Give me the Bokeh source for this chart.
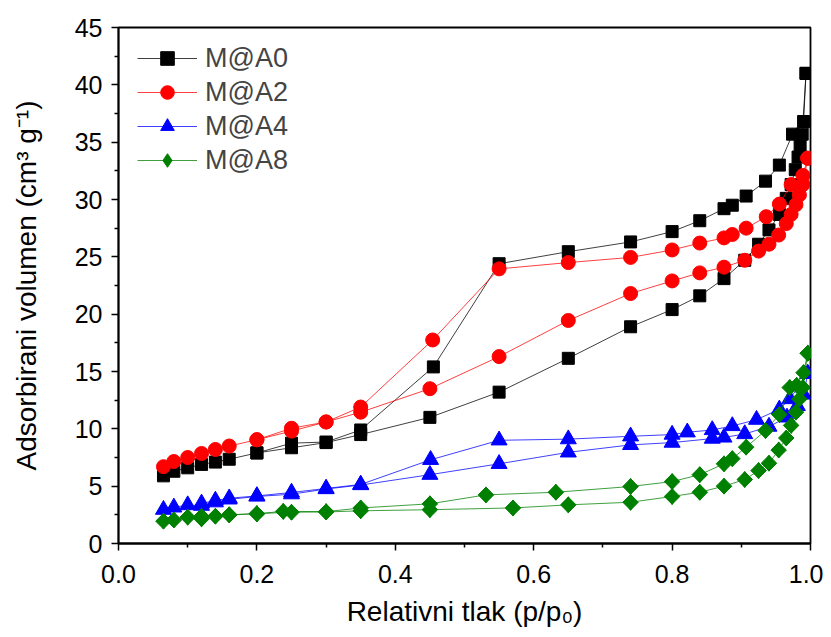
import math
from bokeh.plotting import figure
from bokeh.embed import file_html
from bokeh.resources import INLINE
from bokeh.models import FixedTicker, PrintfTickFormatter, Legend, LegendItem, Range1d

# ---- data ----
a0_ads_x = [0.065, 0.08, 0.10, 0.12, 0.14, 0.16, 0.20, 0.25, 0.30, 0.35, 0.45, 0.55, 0.65, 0.74, 0.80, 0.84, 0.875, 0.905, 0.925, 0.94, 0.955, 0.965, 0.972, 0.978, 0.982, 0.985, 0.988, 0.9935]
a0_ads_y = [5.9, 6.3, 6.6, 6.9, 7.1, 7.35, 7.9, 8.35, 8.8, 9.5, 11.0, 13.2, 16.15, 18.9, 20.4, 21.6, 23.1, 24.7, 26.1, 27.35, 28.7, 30.1, 31.3, 32.6, 33.7, 34.7, 35.7, 41.0]
a0_des_x = [0.9935, 0.99, 0.974, 0.955, 0.935, 0.907, 0.887, 0.875, 0.84, 0.80, 0.74, 0.65, 0.55, 0.455, 0.35, 0.30, 0.25, 0.20]
a0_des_y = [41.0, 36.8, 35.7, 33.0, 31.6, 30.3, 29.5, 29.2, 28.15, 27.2, 26.3, 25.45, 24.4, 15.4, 9.9, 8.85, 8.75, 7.9]

a2_ads_x = [0.065, 0.08, 0.10, 0.12, 0.14, 0.16, 0.20, 0.25, 0.30, 0.35, 0.45, 0.55, 0.65, 0.74, 0.80, 0.84, 0.875, 0.905, 0.925, 0.94, 0.954, 0.965, 0.972, 0.979, 0.984, 0.989, 0.996]
a2_ads_y = [6.7, 7.15, 7.5, 7.85, 8.2, 8.5, 9.05, 9.8, 10.6, 11.45, 13.5, 16.3, 19.45, 21.8, 22.9, 23.6, 24.1, 24.7, 25.5, 26.1, 26.9, 27.9, 28.7, 29.55, 30.4, 31.3, 33.6]
a2_des_x = [0.996, 0.989, 0.972, 0.955, 0.936, 0.907, 0.887, 0.875, 0.84, 0.80, 0.74, 0.65, 0.55, 0.454, 0.35, 0.30, 0.25, 0.20]
a2_des_y = [33.6, 32.1, 31.3, 29.6, 28.5, 27.5, 26.95, 26.65, 26.2, 25.6, 24.95, 24.5, 23.95, 17.75, 11.9, 10.6, 10.05, 9.05]

a4_ads_x = [0.065, 0.08, 0.10, 0.12, 0.14, 0.16, 0.20, 0.25, 0.30, 0.35, 0.45, 0.55, 0.65, 0.74, 0.80, 0.858, 0.875, 0.905, 0.94, 0.966, 0.981, 0.99, 0.996]
a4_ads_y = [2.95, 3.15, 3.35, 3.3, 3.6, 3.85, 4.1, 4.3, 4.75, 5.1, 6.0, 6.95, 7.95, 8.6, 8.8, 9.15, 9.25, 9.55, 10.2, 11.0, 12.0, 13.0, 14.8]
a4_des_x = [0.996, 0.97, 0.955, 0.922, 0.887, 0.858, 0.822, 0.80, 0.74, 0.65, 0.55, 0.451, 0.35, 0.30, 0.25, 0.20, 0.16, 0.14, 0.12]
a4_des_y = [14.8, 12.6, 11.7, 10.8, 10.25, 9.9, 9.7, 9.5, 9.35, 9.1, 9.0, 7.3, 5.15, 4.8, 4.45, 4.15, 3.95, 3.75, 3.5]

a8_ads_x = [0.065, 0.08, 0.10, 0.12, 0.14, 0.16, 0.20, 0.25, 0.30, 0.35, 0.45, 0.57, 0.65, 0.74, 0.80, 0.84, 0.875, 0.905, 0.925, 0.94, 0.954, 0.965, 0.972, 0.979, 0.984, 0.989, 0.996]
a8_ads_y = [1.95, 2.05, 2.3, 2.15, 2.38, 2.5, 2.6, 2.73, 2.75, 2.85, 2.95, 3.1, 3.37, 3.6, 4.1, 4.47, 5.0, 5.58, 6.36, 7.0, 8.15, 9.2, 10.3, 11.45, 12.6, 13.6, 16.6]
a8_des_x = [0.996, 0.99, 0.98, 0.97, 0.955, 0.935, 0.907, 0.887, 0.875, 0.84, 0.80, 0.74, 0.632, 0.531, 0.45, 0.35, 0.30, 0.238, 0.20, 0.16, 0.12]
a8_des_y = [16.6, 14.9, 13.8, 13.6, 11.25, 9.85, 8.4, 7.4, 6.95, 6.0, 5.4, 4.97, 4.47, 4.24, 3.46, 3.1, 2.78, 2.8, 2.6, 2.5, 2.38]

labels = ["M@A0", "M@A2", "M@A4", "M@A8"]
colors = ["#000000", "#FF0000", "#0000FF", "#008000"]

x_ticks = [0.0, 0.2, 0.4, 0.6, 0.8, 1.0]
x_minor = [0.1, 0.3, 0.5, 0.7, 0.9]
y_ticks = [0, 5, 10, 15, 20, 25, 30, 35, 40, 45]
y_minor = [2.5, 7.5, 12.5, 17.5, 22.5, 27.5, 32.5, 37.5, 42.5]

series = [
    (a0_ads_x, a0_ads_y, a0_des_x, a0_des_y),
    (a2_ads_x, a2_ads_y, a2_des_x, a2_des_y),
    (a4_ads_x, a4_ads_y, a4_des_x, a4_des_y),
    (a8_ads_x, a8_ads_y, a8_des_x, a8_des_y),
]
# marker styles: (marker, size, angle, legend marker)
marker_styles = [("square", 12, 0.0, "square"), ("circle", 14, 0.0, "circle"),
                 ("triangle", 16, 0.0, "triangle"), ("square", 11, math.pi / 4, "diamond")]

FONT = "Liberation Sans"

p = figure(width=823, height=629, output_backend="svg", toolbar_location=None,
           x_range=Range1d(0, 1.0), y_range=Range1d(0, 45),
           min_border_left=118, min_border_right=13, min_border_top=27, min_border_bottom=86)
p.background_fill_color = "white"
p.border_fill_color = "white"
p.grid.visible = False
p.outline_line_color = "#000000"
p.outline_line_width = 1.8
p.outline_line_alpha = 1.0

items = []
for (ax, ay, dx, dy), lab, col, (mk, sz, ang, lmk) in zip(series, labels, colors, marker_styles):
    l1 = p.line(ax, ay, line_color=col, line_width=1, line_alpha=0.75)
    l2 = p.line(dx, dy, line_color=col, line_width=1, line_alpha=0.75)
    if lmk != mk:
        # diamond glyph drawn underneath the rotated squares; used for the legend swatch
        s_leg = p.scatter(ax + dx, ay + dy, marker=lmk, size=16, fill_color=col, line_color=col)
    s1 = p.scatter(ax + dx, ay + dy, marker=mk, size=sz, angle=ang,
                   fill_color=col, line_color=col)
    if lmk == mk:
        items.append(LegendItem(label=lab, renderers=[l1, s1]))
    else:
        items.append(LegendItem(label=lab, renderers=[l1, s_leg]))

legend = Legend(items=items, location=(19, 366))
legend.border_line_color = None
legend.background_fill_alpha = 0
legend.label_text_font = FONT
legend.label_text_font_size = "27px"
legend.glyph_width = 60
legend.glyph_height = 34
legend.label_height = 34
legend.spacing = 0
legend.padding = 0
legend.margin = 0
legend.label_standoff = 8
p.add_layout(legend)

p.xaxis.ticker = FixedTicker(ticks=x_ticks, minor_ticks=x_minor)
p.xaxis.formatter = PrintfTickFormatter(format="%.1f")
p.yaxis.ticker = FixedTicker(ticks=y_ticks, minor_ticks=y_minor)
p.xaxis.axis_label = "Relativni tlak (p/p\u2080)"
p.yaxis.axis_label = "Adsorbirani volumen (cm\u00b3 g\u207b\u00b9)"

for ax in (p.xaxis, p.yaxis):
    ax.axis_line_width = 1.8
    ax.axis_line_color = "#000000"
    ax.major_tick_in = 0
    ax.major_tick_out = 7
    ax.minor_tick_in = 0
    ax.minor_tick_out = 4
    ax.major_tick_line_width = 1.5
    ax.minor_tick_line_width = 1.5
    ax.major_label_text_font = FONT
    ax.major_label_text_font_size = "25px"
    ax.major_label_text_color = "#000000"
    ax.axis_label_text_font = FONT
    ax.axis_label_text_font_size = "28px"
    ax.axis_label_text_font_style = "normal"
    ax.axis_label_text_color = "#000000"

p.xaxis.major_label_standoff = 14
p.xaxis.axis_label_standoff = 10
p.yaxis.major_label_standoff = 9
p.yaxis.axis_label_standoff = 30

open("out.html", "w").write(file_html(p, INLINE))
